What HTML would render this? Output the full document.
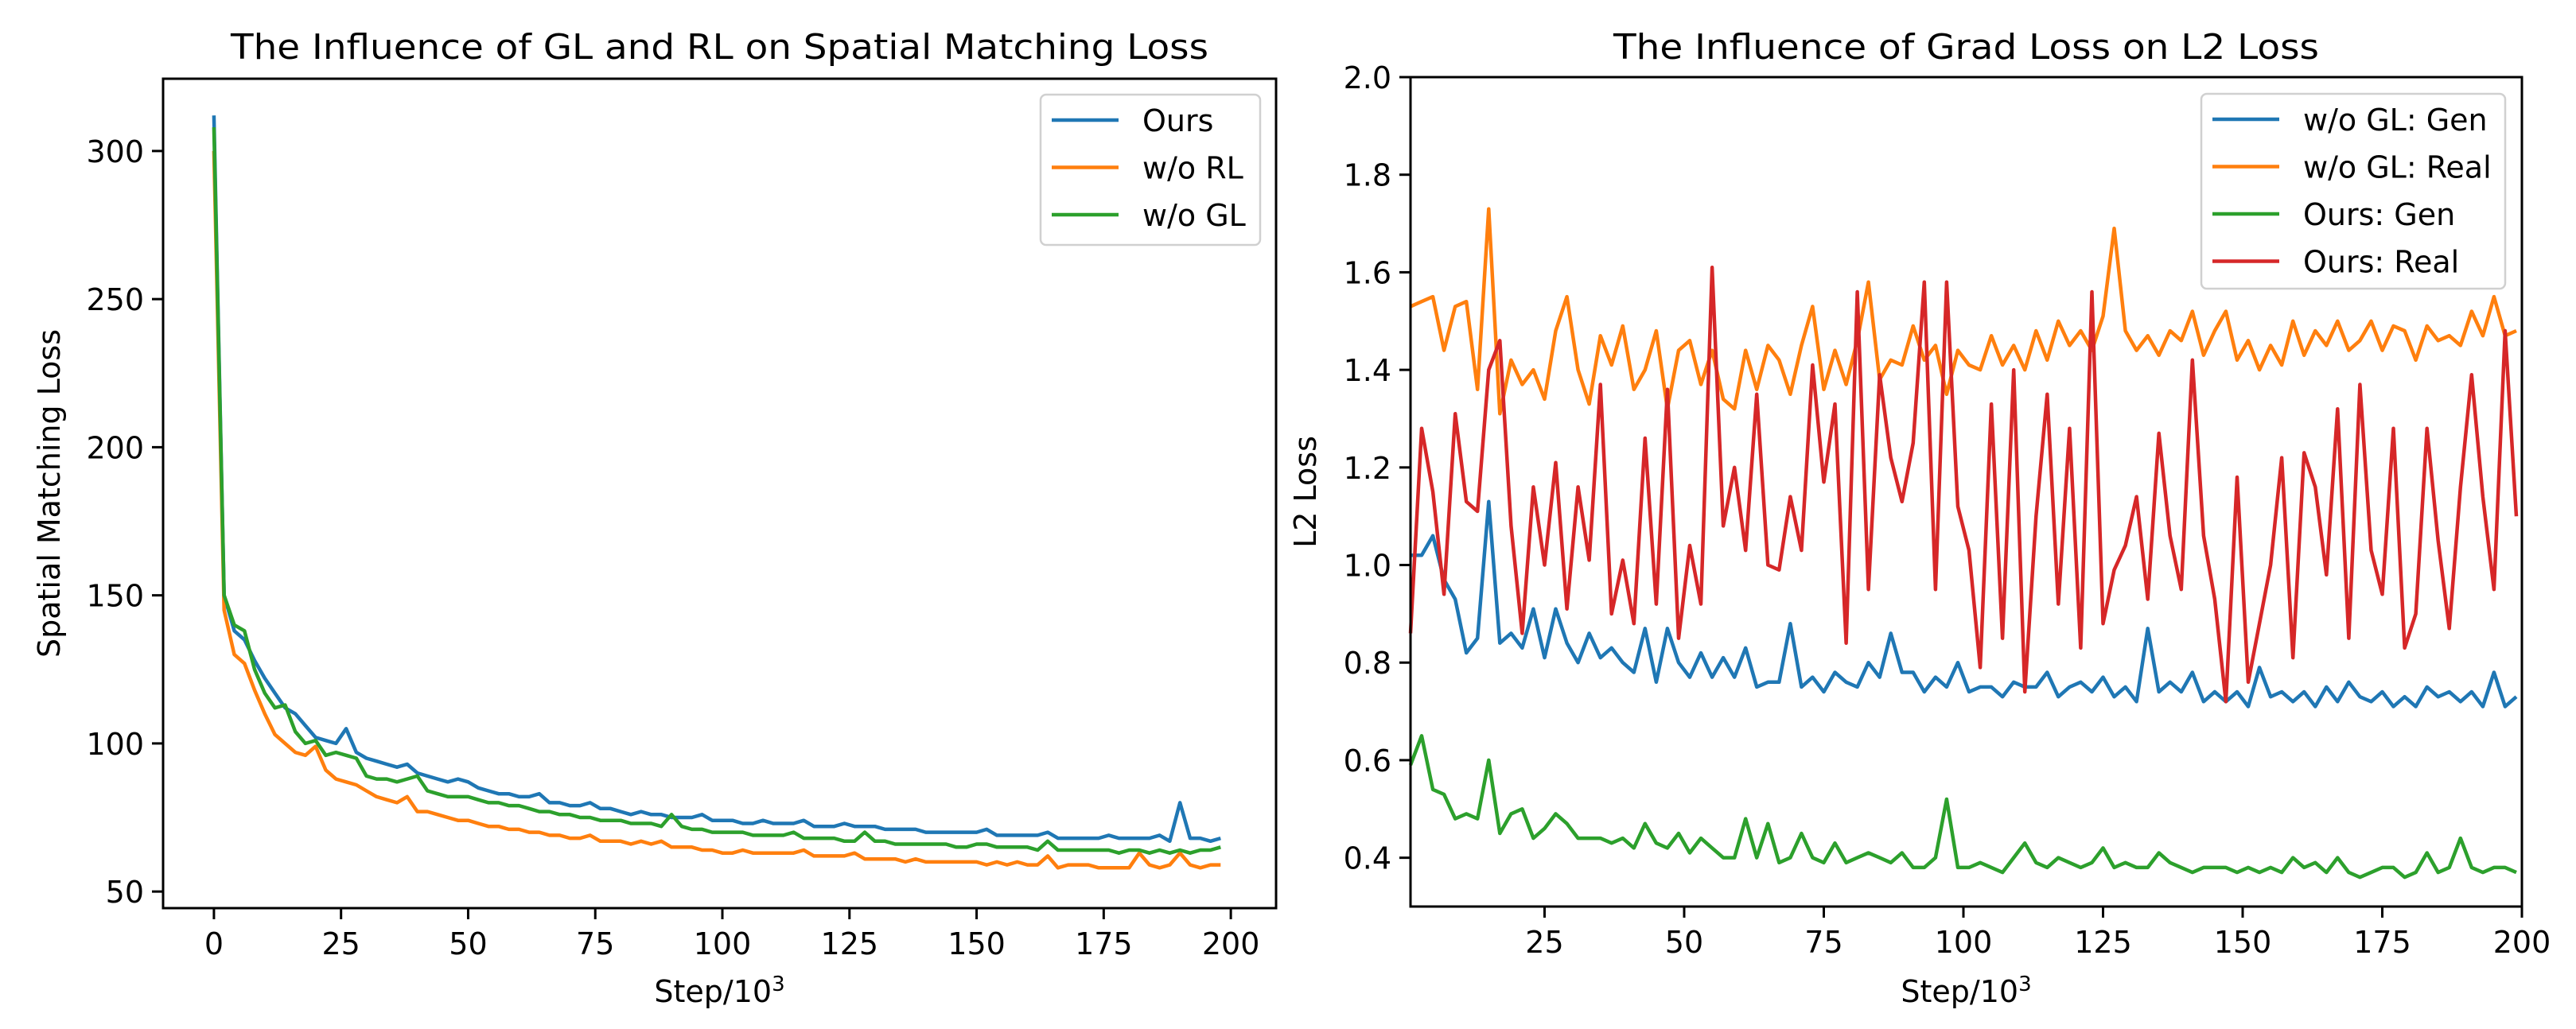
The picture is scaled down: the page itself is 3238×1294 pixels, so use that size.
<!DOCTYPE html>
<html><head><meta charset="utf-8"><style>
html,body{margin:0;padding:0;background:#fff;}
svg{display:block;font-family:"DejaVu Sans","Liberation Sans",sans-serif;}
</style></head><body>
<svg id="fig" width="3238" height="1294" viewBox="0 0 3238 1294" xmlns="http://www.w3.org/2000/svg"></svg>
<script>
// ---------- Left chart data ----------
const leftSteps = [0,2,4,6,8,10,12,14,16,18,20,22,24,26,28,30,32,34,36,38,40,42,44,46,48,50,52,54,56,58,60,62,64,66,68,70,72,74,76,78,80,82,84,86,88,90,92,94,96,98,100,102,104,106,108,110,112,114,116,118,120,122,124,126,128,130,132,134,136,138,140,142,144,146,148,150,152,154,156,158,160,162,164,166,168,170,172,174,176,178,180,182,184,186,188,190,192,194,196,198];
const oursLoss = [312,150,138,135,128,122,117,112,110,106,102,101,100,105,97,95,94,93,92,93,90,89,88,87,88,87,85,84,83,83,82,82,83,80,80,79,79,80,78,78,77,76,77,76,76,75,75,75,76,74,74,74,73,73,74,73,73,73,74,72,72,72,73,72,72,72,71,71,71,71,70,70,70,70,70,70,71,69,69,69,69,69,70,68,68,68,68,68,69,68,68,68,68,69,67,80,68,68,67,68];
const woRLLoss = [300,145,130,127,118,110,103,100,97,96,99,91,88,87,86,84,82,81,80,82,77,77,76,75,74,74,73,72,72,71,71,70,70,69,69,68,68,69,67,67,67,66,67,66,67,65,65,65,64,64,63,63,64,63,63,63,63,63,64,62,62,62,62,63,61,61,61,61,60,61,60,60,60,60,60,60,59,60,59,60,59,59,62,58,59,59,59,58,58,58,58,63,59,58,59,63,59,58,59,59];
const woGLLoss = [308,150,140,138,125,117,112,113,104,100,101,96,97,96,95,89,88,88,87,88,89,84,83,82,82,82,81,80,80,79,79,78,77,77,76,76,75,75,74,74,74,73,73,73,72,76,72,71,71,70,70,70,70,69,69,69,69,70,68,68,68,68,67,67,70,67,67,66,66,66,66,66,66,65,65,66,66,65,65,65,65,64,67,64,64,64,64,64,64,63,64,64,63,64,63,64,63,64,64,65];
const leftXTicks = [0,25,50,75,100,125,150,175,200];
const leftYTicks = [50,100,150,200,250,300];

// ---------- Right chart data ----------
const rightSteps = [1,3,5,7,9,11,13,15,17,19,21,23,25,27,29,31,33,35,37,39,41,43,45,47,49,51,53,55,57,59,61,63,65,67,69,71,73,75,77,79,81,83,85,87,89,91,93,95,97,99,101,103,105,107,109,111,113,115,117,119,121,123,125,127,129,131,133,135,137,139,141,143,145,147,149,151,153,155,157,159,161,163,165,167,169,171,173,175,177,179,181,183,185,187,189,191,193,195,197,199];
const woGLGen = [1.02,1.02,1.06,0.97,0.93,0.82,0.85,1.13,0.84,0.86,0.83,0.91,0.81,0.91,0.84,0.80,0.86,0.81,0.83,0.80,0.78,0.87,0.76,0.87,0.80,0.77,0.82,0.77,0.81,0.77,0.83,0.75,0.76,0.76,0.88,0.75,0.77,0.74,0.78,0.76,0.75,0.80,0.77,0.86,0.78,0.78,0.74,0.77,0.75,0.80,0.74,0.75,0.75,0.73,0.76,0.75,0.75,0.78,0.73,0.75,0.76,0.74,0.77,0.73,0.75,0.72,0.87,0.74,0.76,0.74,0.78,0.72,0.74,0.72,0.74,0.71,0.79,0.73,0.74,0.72,0.74,0.71,0.75,0.72,0.76,0.73,0.72,0.74,0.71,0.73,0.71,0.75,0.73,0.74,0.72,0.74,0.71,0.78,0.71,0.73];
const woGLReal = [1.53,1.54,1.55,1.44,1.53,1.54,1.36,1.73,1.31,1.42,1.37,1.40,1.34,1.48,1.55,1.40,1.33,1.47,1.41,1.49,1.36,1.40,1.48,1.32,1.44,1.46,1.37,1.44,1.34,1.32,1.44,1.36,1.45,1.42,1.35,1.45,1.53,1.36,1.44,1.37,1.46,1.58,1.38,1.42,1.41,1.49,1.42,1.45,1.35,1.44,1.41,1.40,1.47,1.41,1.45,1.40,1.48,1.42,1.50,1.45,1.48,1.44,1.51,1.69,1.48,1.44,1.47,1.43,1.48,1.46,1.52,1.43,1.48,1.52,1.42,1.46,1.40,1.45,1.41,1.50,1.43,1.48,1.45,1.50,1.44,1.46,1.50,1.44,1.49,1.48,1.42,1.49,1.46,1.47,1.45,1.52,1.47,1.55,1.47,1.48];
const oursGen = [0.59,0.65,0.54,0.53,0.48,0.49,0.48,0.60,0.45,0.49,0.50,0.44,0.46,0.49,0.47,0.44,0.44,0.44,0.43,0.44,0.42,0.47,0.43,0.42,0.45,0.41,0.44,0.42,0.40,0.40,0.48,0.40,0.47,0.39,0.40,0.45,0.40,0.39,0.43,0.39,0.40,0.41,0.40,0.39,0.41,0.38,0.38,0.40,0.52,0.38,0.38,0.39,0.38,0.37,0.40,0.43,0.39,0.38,0.40,0.39,0.38,0.39,0.42,0.38,0.39,0.38,0.38,0.41,0.39,0.38,0.37,0.38,0.38,0.38,0.37,0.38,0.37,0.38,0.37,0.40,0.38,0.39,0.37,0.40,0.37,0.36,0.37,0.38,0.38,0.36,0.37,0.41,0.37,0.38,0.44,0.38,0.37,0.38,0.38,0.37];
const oursReal = [0.86,1.28,1.15,0.94,1.31,1.13,1.11,1.40,1.46,1.08,0.86,1.16,1.00,1.21,0.91,1.16,1.01,1.37,0.90,1.01,0.88,1.26,0.92,1.36,0.85,1.04,0.92,1.61,1.08,1.20,1.03,1.35,1.00,0.99,1.14,1.03,1.41,1.17,1.33,0.84,1.56,0.95,1.39,1.22,1.13,1.25,1.58,0.95,1.58,1.12,1.03,0.79,1.33,0.85,1.40,0.74,1.10,1.35,0.92,1.28,0.83,1.56,0.88,0.99,1.04,1.14,0.93,1.27,1.06,0.95,1.42,1.06,0.93,0.72,1.18,0.76,0.88,1.00,1.22,0.81,1.23,1.16,0.98,1.32,0.85,1.37,1.03,0.94,1.28,0.83,0.90,1.28,1.05,0.87,1.16,1.39,1.14,0.95,1.48,1.10];
const rightXTicks = [25,50,75,100,125,150,175,200];
const rightYTicks = [0.4,0.6,0.8,1.0,1.2,1.4,1.6,1.8,2.0];

const NS = "http://www.w3.org/2000/svg";
const svg = document.getElementById('fig');
function mk(tag, attrs, parent, text){
  const e = document.createElementNS(NS, tag);
  for (const k in attrs) e.setAttribute(k, attrs[k]);
  if (text !== undefined) e.textContent = text;
  (parent||svg).appendChild(e);
  return e;
}
const C = {blue:'#1f77b4', orange:'#ff7f0e', green:'#2ca02c', red:'#d62728'};

function drawChart(cfg){
  const g = mk('g', {});
  
  
  const sx = v => cfg.L + (v - cfg.xmin) / (cfg.xmax - cfg.xmin) * (cfg.R - cfg.L);
  const sy = v => cfg.B - (v - cfg.ymin) / (cfg.ymax - cfg.ymin) * (cfg.B - cfg.T);
  cfg.series.forEach(s => {
    let d = '';
    for (let i = 0; i < s.values.length && i < cfg.steps.length; i++) {
      d += (i ? 'L' : 'M') + sx(cfg.steps[i]).toFixed(1) + ' ' + sy(s.values[i]).toFixed(1);
    }
    const p = mk('path', {d: d, fill:'none', stroke: s.color, 'stroke-width': 4.5, 'stroke-linejoin':'round'}, g);
    
    
  });
  const fr = mk('rect', {x: cfg.L, y: cfg.T, width: cfg.R - cfg.L, height: cfg.B - cfg.T, fill:'none', stroke:'#000', 'stroke-width': 3}, g);
  
  
  cfg.xticks.forEach(t => {
    const x = sx(t);
    const tk = mk('line', {x1:x, x2:x, y1:cfg.B, y2:cfg.B + 14, stroke:'#000', 'stroke-width':3}, g);
    
    
    const lb = mk('text', {x:x, y:cfg.B + 58, 'text-anchor':'middle', 'font-size':38, fill:'#000'}, g, String(t));
    
    
  });
  cfg.yticks.forEach(t => {
    const y = sy(t);
    const tk = mk('line', {x1:cfg.L - 14, x2:cfg.L, y1:y, y2:y, stroke:'#000', 'stroke-width':3}, g);
    
    
    const lb = mk('text', {x:cfg.L - 24, y:y + 14, 'text-anchor':'end', 'font-size':38, fill:'#000'}, g, cfg.yfmt(t));
    
    
  });
  const ti = mk('text', {x:(cfg.L + cfg.R)/2, y:74, 'text-anchor':'middle', 'font-size':44, fill:'#000', textLength:cfg.titleLen, lengthAdjust:'spacingAndGlyphs'}, g, cfg.title);
  
  
  const xl = mk('text', {x:(cfg.L + cfg.R)/2, y:1260, 'text-anchor':'middle', 'font-size':38, fill:'#000'}, g);
  
  
  mk('tspan', {}, xl, 'Step/10');
  mk('tspan', {dy:-14, 'font-size':26}, xl, '3');
  const yl = mk('text', {x:cfg.ylx, y:(cfg.T + cfg.B)/2, 'text-anchor':'middle', 'font-size':38, fill:'#000', transform:'rotate(-90 ' + cfg.ylx + ' ' + (cfg.T + cfg.B)/2 + ')'}, g, cfg.ylabel);
  
  
  const lg = mk('g', {}, g);
  
  
  const lgb = cfg.legend;
  mk('rect', {x:lgb.x, y:lgb.y, width:lgb.w, height:lgb.h, rx:7, fill:'#fff', 'fill-opacity':0.85, stroke:'#d0d0d0', 'stroke-width':2.5}, lg);
  cfg.series.forEach((s, i) => {
    const ey = lgb.y + 32 + i * 59.5;
    const eg = mk('g', {}, lg);
    
    
    mk('line', {x1:lgb.x + 14, x2:lgb.x + 98, y1:ey, y2:ey, stroke:s.color, 'stroke-width':4.5}, eg);
    mk('text', {x:lgb.x + 128, y:ey + 14, 'font-size':38, fill:'#000'}, eg, s.label);
  });
}

drawChart({
  name:'spatial-matching-chart', L:205, R:1604, T:99, B:1142,
  xmin:-10, xmax:208.9, ymin:44.4, ymax:324.4,
  steps:leftSteps, xticks:leftXTicks, yticks:leftYTicks, yfmt:t => String(t),
  title:'The Influence of GL and RL on Spatial Matching Loss', titleLen:1229, ylabel:'Spatial Matching Loss', ylx:75,
  legend:{x:1308, y:119, w:276, h:189},
  series:[
    {id:'ours', label:'Ours', color:C.blue, values:oursLoss},
    {id:'wo-rl', label:'w/o RL', color:C.orange, values:woRLLoss},
    {id:'wo-gl', label:'w/o GL', color:C.green, values:woGLLoss}
  ]
});
drawChart({
  name:'l2-loss-chart', L:1773, R:3170, T:97, B:1140,
  xmin:1, xmax:200, ymin:0.3, ymax:2.0,
  steps:rightSteps, xticks:rightXTicks, yticks:rightYTicks, yfmt:t => t.toFixed(1),
  title:'The Influence of Grad Loss on L2 Loss', titleLen:887, ylabel:'L2 Loss', ylx:1654,
  legend:{x:2767, y:118, w:382, h:245},
  series:[
    {id:'wo-gl-gen', label:'w/o GL: Gen', color:C.blue, values:woGLGen},
    {id:'wo-gl-real', label:'w/o GL: Real', color:C.orange, values:woGLReal},
    {id:'ours-gen', label:'Ours: Gen', color:C.green, values:oursGen},
    {id:'ours-real', label:'Ours: Real', color:C.red, values:oursReal}
  ]
});
</script>
</body></html>
